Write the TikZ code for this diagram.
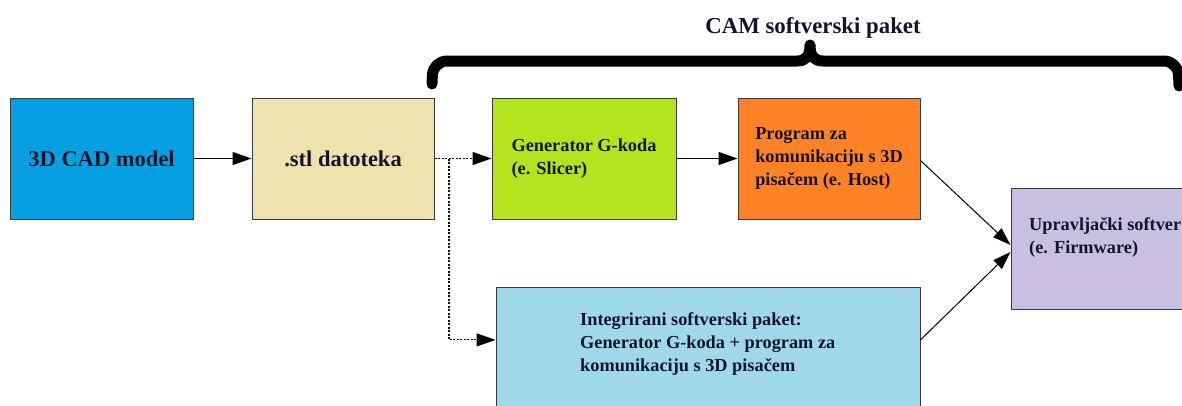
\documentclass[tikz,border=0pt]{standalone}
\usepackage{fontspec}
\setmainfont{Liberation Serif}
\usetikzlibrary{arrows.meta,calc}
\definecolor{cadblue}{HTML}{06A0E2}
\definecolor{stlbeige}{HTML}{EEE2AE}
\definecolor{gengreen}{HTML}{B4E41E}
\definecolor{hostorange}{HTML}{FF8226}
\definecolor{integblue}{HTML}{9FD8E9}
\definecolor{firmpurple}{HTML}{C8BFE3}
\definecolor{boxline}{HTML}{3A3A3A}
\definecolor{txt}{HTML}{15152A}
\begin{document}
\begin{tikzpicture}[x=1pt,y=-1pt,
  box/.style={draw=boxline, line width=1pt, minimum height=121pt, inner sep=0pt, align=left, text=txt},
  bigtxt/.style={font=\fontsize{22.5}{27}\selectfont\bfseries},
  smalltxt/.style={font=\fontsize{18.3}{23}\selectfont\bfseries, text=txt},
  arr/.style={line width=1.2pt, -{Triangle[length=19pt,width=13pt]}},
  darr/.style={line width=1.1pt, dash pattern=on 2pt off 1.5pt, -{Triangle[length=19pt,width=13pt]}},
  diag/.style={line width=1pt, -{Triangle[length=18pt,width=12pt]}},
  brace/.style={line width=11pt, line cap=round, line join=round}
]
\useasboundingbox (0,0) rectangle (1182,405);
\clip (0,0) rectangle (1182,405);
\fill[white] (0,0) rectangle (1182,405);

% boxes
\node[box, fill=cadblue, minimum width=183pt, bigtxt] (cad) at (101.5,158.5) {3D CAD model};
\node[box, fill=stlbeige, minimum width=182pt, bigtxt] (stl) at (343,158.5) {.stl datoteka};
\node[box, fill=gengreen, minimum width=184pt, smalltxt] (gen) at (584,158.5) {Generator G-koda\\(e. Slicer)};
\node[box, fill=hostorange, minimum width=182pt, smalltxt] (host) at (829,158.5) {Program za\\komunikaciju s 3D\\pisačem (e. Host)};
\node[box, fill=firmpurple, minimum width=189pt] (firm) at (1105.5,248.5) {};
\node[box, fill=integblue, minimum width=424pt, minimum height=128pt] (integ) at (708,351) {};

% texts in the cut-off boxes
\node[smalltxt, anchor=west, inner sep=0pt, align=left] (firmtxt) at (1029,237.5) {Upravljački softver\\(e. Firmware)};
\node[smalltxt, anchor=west, inner sep=0pt, align=left] (integtxt) at (580,344) {Integrirani softverski paket:\\Generator G-koda + program za\\komunikaciju s 3D pisačem};

% brace label
\node[anchor=base, inner sep=0pt, text=txt, font=\fontsize{22.8}{27}\selectfont\bfseries] (camlbl) at (813,33) {CAM softverski paket};

% brace
\draw[brace] (432,84) [rounded corners=14pt] -- (433,61) -- (600,61) [sharp corners] -- (797,61)
  .. controls (806,61) and (810,56) .. (810,45)
  .. controls (810,56) and (814,61) .. (823,61) -- (1000,61) [rounded corners=14pt] -- (1178,61) -- (1179,86);

% connectors
\draw[arr] (cad.east) -- (stl.west);
\draw[arr] (gen.east) -- (host.west);
\coordinate (split) at ($(stl.east)+(14.5,0)$);
\coordinate (integin) at ($(integ.north west)!0.414!(integ.south west)$);
\coordinate (integout) at ($(integ.north east)!0.414!(integ.south east)$);
\draw[darr] (stl.east) -- (gen.west);
\draw[darr] (split) |- (integin);
\draw[diag] ($(host.east)+(0,2)$) -- ($(firm.west)+(0,-3.5)$);
\draw[diag] (integout) -- ($(firm.west)+(0,3.5)$);
\end{tikzpicture}
\end{document}
